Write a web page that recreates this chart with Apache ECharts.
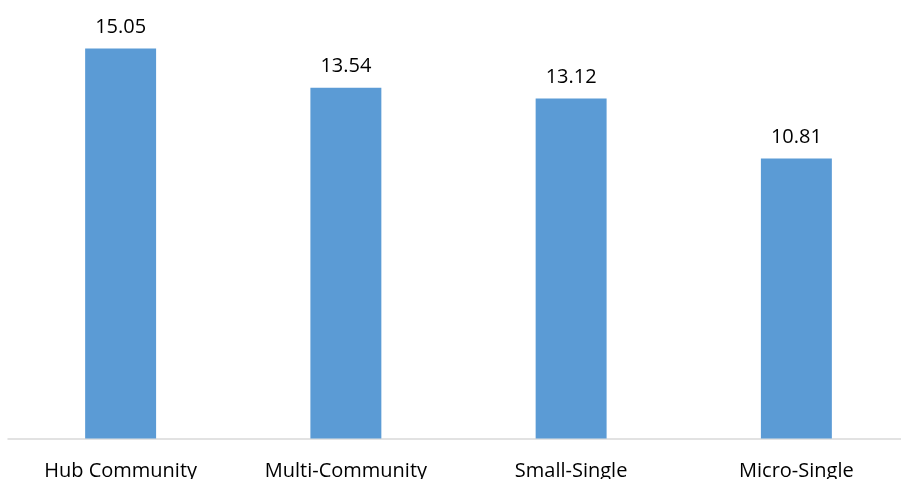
<!DOCTYPE html>
<html>
<head>
<meta charset="utf-8">
<style>
  html, body { margin: 0; padding: 0; background: #ffffff; }
  #chart { width: 901px; height: 479px; }
</style>
<script src="https://cdn.jsdelivr.net/npm/echarts@6/dist/echarts.min.js"></script>
</head>
<body>
<div id="chart"></div>
<script>
// Average score by settlement type
const categories = ['Hub Community', 'Multi-Community', 'Small-Single', 'Micro-Single'];
const values = [15.05, 13.54, 13.12, 10.81];

const chart = echarts.init(document.getElementById('chart'), null, { renderer: 'canvas' });

chart.setOption({
  animation: false,
  textStyle: { fontFamily: 'Open Sans' },
  grid: {
    left: 8, width: 901, top: 24, bottom: 40.5,
    containLabel: false,
    outerBoundsMode: 'none'
  },
  xAxis: {
    type: 'category',
    data: categories,
    axisLine: { show: true, lineStyle: { color: '#d9d9d9', width: 1.5 } },
    axisTick: { show: false },
    axisLabel: { color: '#000000', fontSize: 20, fontFamily: 'Open Sans', margin: 23, interval: 0 }
  },
  yAxis: {
    type: 'value',
    min: 0,
    max: 16,
    show: false,
    splitLine: { show: false }
  },
  series: [{
    type: 'bar',
    data: values,
    barWidth: '31.5%',
    itemStyle: { color: '#5b9bd5' },
    label: {
      show: true,
      position: 'top',
      distance: 11,
      color: '#000000',
      fontSize: 20,
      fontFamily: 'Open Sans',
      formatter: p => p.value.toFixed(2)
    }
  }]
});
</script>
</body>
</html>
